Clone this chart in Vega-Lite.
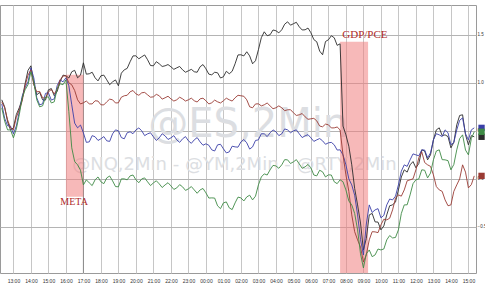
{
  "$schema": "https://vega.github.io/schema/vega-lite/v6.json",
  "width": 476,
  "height": 268,
  "autosize": {"type": "none"},
  "padding": {"left": 0, "top": 5, "right": 9, "bottom": 13},
  "background": "#ffffff",
  "config": {"view": {"stroke": "#9a9a9a", "strokeWidth": 1}},
  "datasets": {
    "prices": [
      {"m": -40, "ES": 0.823, "NQ": 0.781, "YM": 0.802, "RTY": 0.740},
      {"m": -30, "ES": 0.75, "NQ": 0.63, "YM": 0.74, "RTY": 0.60},
      {"m": -20, "ES": 0.594, "NQ": 0.552, "YM": 0.615, "RTY": 0.510},
      {"m": -10, "ES": 0.51, "NQ": 0.55, "YM": 0.53, "RTY": 0.51},
      {"m": 0, "ES": 0.531, "NQ": 0.469, "YM": 0.510, "RTY": 0.427},
      {"m": 10, "ES": 0.67, "NQ": 0.55, "YM": 0.64, "RTY": 0.52},
      {"m": 20, "ES": 0.740, "NQ": 0.698, "YM": 0.719, "RTY": 0.667},
      {"m": 30, "ES": 0.83, "NQ": 0.86, "YM": 0.81, "RTY": 0.84},
      {"m": 40, "ES": 0.990, "NQ": 0.948, "YM": 0.969, "RTY": 0.927},
      {"m": 50, "ES": 1.13, "NQ": 1.01, "YM": 1.08, "RTY": 0.98},
      {"m": 60, "ES": 1.177, "NQ": 1.156, "YM": 1.135, "RTY": 1.115},
      {"m": 70, "ES": 0.99, "NQ": 1.05, "YM": 0.98, "RTY": 1.01},
      {"m": 80, "ES": 0.875, "NQ": 0.844, "YM": 0.906, "RTY": 0.823},
      {"m": 90, "ES": 0.90, "NQ": 0.77, "YM": 0.91, "RTY": 0.75},
      {"m": 100, "ES": 0.823, "NQ": 0.781, "YM": 0.844, "RTY": 0.760},
      {"m": 110, "ES": 0.82, "NQ": 0.89, "YM": 0.84, "RTY": 0.85},
      {"m": 120, "ES": 0.927, "NQ": 0.896, "YM": 0.906, "RTY": 0.854},
      {"m": 130, "ES": 0.94, "NQ": 0.82, "YM": 0.93, "RTY": 0.79},
      {"m": 140, "ES": 0.865, "NQ": 0.833, "YM": 0.885, "RTY": 0.802},
      {"m": 150, "ES": 0.91, "NQ": 0.97, "YM": 0.93, "RTY": 0.94},
      {"m": 160, "ES": 1.010, "NQ": 1.031, "YM": 1.031, "RTY": 0.990},
      {"m": 170, "ES": 1.08, "NQ": 1.01, "YM": 1.07, "RTY": 0.98},
      {"m": 180, "ES": 1.073, "NQ": 1.052, "YM": 1.073, "RTY": 1.031},
      {"m": 190, "ES": 1.05, "NQ": 0.97, "YM": 1.00, "RTY": 0.70},
      {"m": 200, "ES": 1.115, "NQ": 0.771, "YM": 0.979, "RTY": 0.323},
      {"m": 210, "ES": 1.13, "NQ": 0.58, "YM": 0.92, "RTY": 0.18},
      {"m": 220, "ES": 1.052, "NQ": 0.531, "YM": 0.823, "RTY": 0.146},
      {"m": 230, "ES": 1.08, "NQ": 0.56, "YM": 0.78, "RTY": 0.09},
      {"m": 240, "ES": 1.208, "NQ": 0.479, "YM": 0.792, "RTY": -0.063},
      {"m": 250, "ES": 1.09, "NQ": 0.38, "YM": 0.81, "RTY": -0.01},
      {"m": 260, "ES": 1.094, "NQ": 0.385, "YM": 0.781, "RTY": -0.042},
      {"m": 270, "ES": 1.11, "NQ": 0.45, "YM": 0.78, "RTY": -0.07},
      {"m": 280, "ES": 1.052, "NQ": 0.438, "YM": 0.813, "RTY": -0.010},
      {"m": 290, "ES": 1.02, "NQ": 0.40, "YM": 0.81, "RTY": 0.02},
      {"m": 300, "ES": 1.073, "NQ": 0.417, "YM": 0.771, "RTY": -0.031},
      {"m": 310, "ES": 1.08, "NQ": 0.44, "YM": 0.77, "RTY": -0.05},
      {"m": 320, "ES": 1.031, "NQ": 0.396, "YM": 0.802, "RTY": 0.010},
      {"m": 330, "ES": 0.98, "NQ": 0.39, "YM": 0.83, "RTY": 0.03},
      {"m": 340, "ES": 1.010, "NQ": 0.469, "YM": 0.823, "RTY": -0.021},
      {"m": 350, "ES": 1.03, "NQ": 0.51, "YM": 0.79, "RTY": -0.08},
      {"m": 360, "ES": 0.969, "NQ": 0.500, "YM": 0.792, "RTY": -0.083},
      {"m": 370, "ES": 1.10, "NQ": 0.43, "YM": 0.85, "RTY": 0.00},
      {"m": 380, "ES": 1.135, "NQ": 0.417, "YM": 0.865, "RTY": 0.000},
      {"m": 390, "ES": 1.15, "NQ": 0.48, "YM": 0.87, "RTY": -0.01},
      {"m": 400, "ES": 1.219, "NQ": 0.490, "YM": 0.906, "RTY": 0.031},
      {"m": 410, "ES": 1.28, "NQ": 0.47, "YM": 0.92, "RTY": 0.04},
      {"m": 420, "ES": 1.281, "NQ": 0.510, "YM": 0.885, "RTY": -0.010},
      {"m": 430, "ES": 1.25, "NQ": 0.53, "YM": 0.87, "RTY": -0.04},
      {"m": 440, "ES": 1.271, "NQ": 0.500, "YM": 0.896, "RTY": 0.000},
      {"m": 450, "ES": 1.29, "NQ": 0.45, "YM": 0.90, "RTY": 0.01},
      {"m": 460, "ES": 1.240, "NQ": 0.469, "YM": 0.875, "RTY": -0.031},
      {"m": 470, "ES": 1.18, "NQ": 0.48, "YM": 0.85, "RTY": -0.07},
      {"m": 480, "ES": 1.177, "NQ": 0.438, "YM": 0.854, "RTY": -0.042},
      {"m": 490, "ES": 1.22, "NQ": 0.40, "YM": 0.88, "RTY": -0.02},
      {"m": 500, "ES": 1.198, "NQ": 0.427, "YM": 0.865, "RTY": -0.052},
      {"m": 510, "ES": 1.17, "NQ": 0.47, "YM": 0.83, "RTY": -0.09},
      {"m": 520, "ES": 1.177, "NQ": 0.448, "YM": 0.844, "RTY": -0.063},
      {"m": 530, "ES": 1.19, "NQ": 0.41, "YM": 0.86, "RTY": -0.04},
      {"m": 540, "ES": 1.167, "NQ": 0.427, "YM": 0.833, "RTY": -0.073},
      {"m": 550, "ES": 1.14, "NQ": 0.45, "YM": 0.81, "RTY": -0.11},
      {"m": 560, "ES": 1.156, "NQ": 0.406, "YM": 0.823, "RTY": -0.094},
      {"m": 570, "ES": 1.17, "NQ": 0.38, "YM": 0.85, "RTY": -0.06},
      {"m": 580, "ES": 1.135, "NQ": 0.417, "YM": 0.833, "RTY": -0.083},
      {"m": 590, "ES": 1.11, "NQ": 0.44, "YM": 0.81, "RTY": -0.12},
      {"m": 600, "ES": 1.125, "NQ": 0.396, "YM": 0.823, "RTY": -0.104},
      {"m": 610, "ES": 1.14, "NQ": 0.37, "YM": 0.84, "RTY": -0.08},
      {"m": 620, "ES": 1.115, "NQ": 0.406, "YM": 0.813, "RTY": -0.115},
      {"m": 630, "ES": 1.11, "NQ": 0.43, "YM": 0.80, "RTY": -0.15},
      {"m": 640, "ES": 1.167, "NQ": 0.385, "YM": 0.833, "RTY": -0.115},
      {"m": 650, "ES": 1.19, "NQ": 0.35, "YM": 0.84, "RTY": -0.10},
      {"m": 660, "ES": 1.146, "NQ": 0.365, "YM": 0.813, "RTY": -0.146},
      {"m": 670, "ES": 1.09, "NQ": 0.35, "YM": 0.78, "RTY": -0.20},
      {"m": 680, "ES": 1.083, "NQ": 0.302, "YM": 0.792, "RTY": -0.198},
      {"m": 690, "ES": 1.11, "NQ": 0.29, "YM": 0.82, "RTY": -0.20},
      {"m": 700, "ES": 1.104, "NQ": 0.354, "YM": 0.802, "RTY": -0.281},
      {"m": 710, "ES": 1.05, "NQ": 0.36, "YM": 0.79, "RTY": -0.31},
      {"m": 720, "ES": 1.063, "NQ": 0.313, "YM": 0.813, "RTY": -0.250},
      {"m": 730, "ES": 1.12, "NQ": 0.27, "YM": 0.84, "RTY": -0.24},
      {"m": 740, "ES": 1.094, "NQ": 0.281, "YM": 0.823, "RTY": -0.302},
      {"m": 750, "ES": 1.12, "NQ": 0.34, "YM": 0.81, "RTY": -0.32},
      {"m": 760, "ES": 1.198, "NQ": 0.333, "YM": 0.844, "RTY": -0.250},
      {"m": 770, "ES": 1.29, "NQ": 0.33, "YM": 0.87, "RTY": -0.19},
      {"m": 780, "ES": 1.292, "NQ": 0.385, "YM": 0.865, "RTY": -0.198},
      {"m": 790, "ES": 1.28, "NQ": 0.41, "YM": 0.86, "RTY": -0.23},
      {"m": 800, "ES": 1.323, "NQ": 0.375, "YM": 0.823, "RTY": -0.188},
      {"m": 810, "ES": 1.28, "NQ": 0.31, "YM": 0.75, "RTY": -0.17},
      {"m": 820, "ES": 1.198, "NQ": 0.333, "YM": 0.740, "RTY": -0.219},
      {"m": 830, "ES": 1.23, "NQ": 0.40, "YM": 0.78, "RTY": -0.18},
      {"m": 840, "ES": 1.344, "NQ": 0.406, "YM": 0.781, "RTY": -0.063},
      {"m": 850, "ES": 1.47, "NQ": 0.47, "YM": 0.76, "RTY": 0.02},
      {"m": 860, "ES": 1.531, "NQ": 0.469, "YM": 0.771, "RTY": 0.052},
      {"m": 870, "ES": 1.49, "NQ": 0.44, "YM": 0.79, "RTY": 0.04},
      {"m": 880, "ES": 1.500, "NQ": 0.479, "YM": 0.760, "RTY": 0.094},
      {"m": 890, "ES": 1.55, "NQ": 0.51, "YM": 0.73, "RTY": 0.14},
      {"m": 900, "ES": 1.542, "NQ": 0.490, "YM": 0.740, "RTY": 0.135},
      {"m": 910, "ES": 1.52, "NQ": 0.45, "YM": 0.76, "RTY": 0.11},
      {"m": 920, "ES": 1.552, "NQ": 0.469, "YM": 0.740, "RTY": 0.146},
      {"m": 930, "ES": 1.61, "NQ": 0.52, "YM": 0.71, "RTY": 0.20},
      {"m": 940, "ES": 1.635, "NQ": 0.510, "YM": 0.719, "RTY": 0.198},
      {"m": 950, "ES": 1.60, "NQ": 0.48, "YM": 0.72, "RTY": 0.16},
      {"m": 960, "ES": 1.615, "NQ": 0.500, "YM": 0.688, "RTY": 0.177},
      {"m": 970, "ES": 1.63, "NQ": 0.51, "YM": 0.66, "RTY": 0.20},
      {"m": 980, "ES": 1.583, "NQ": 0.469, "YM": 0.667, "RTY": 0.156},
      {"m": 990, "ES": 1.55, "NQ": 0.43, "YM": 0.68, "RTY": 0.11},
      {"m": 1000, "ES": 1.552, "NQ": 0.448, "YM": 0.646, "RTY": 0.125},
      {"m": 1010, "ES": 1.57, "NQ": 0.46, "YM": 0.62, "RTY": 0.15},
      {"m": 1020, "ES": 1.521, "NQ": 0.427, "YM": 0.625, "RTY": 0.115},
      {"m": 1030, "ES": 1.45, "NQ": 0.39, "YM": 0.63, "RTY": 0.04},
      {"m": 1040, "ES": 1.427, "NQ": 0.406, "YM": 0.604, "RTY": 0.031},
      {"m": 1050, "ES": 1.33, "NQ": 0.42, "YM": 0.55, "RTY": 0.09},
      {"m": 1060, "ES": 1.292, "NQ": 0.396, "YM": 0.542, "RTY": 0.073},
      {"m": 1070, "ES": 1.43, "NQ": 0.36, "YM": 0.57, "RTY": 0.02},
      {"m": 1080, "ES": 1.448, "NQ": 0.375, "YM": 0.563, "RTY": 0.042},
      {"m": 1090, "ES": 1.49, "NQ": 0.38, "YM": 0.53, "RTY": 0.04},
      {"m": 1100, "ES": 1.469, "NQ": 0.354, "YM": 0.531, "RTY": -0.031},
      {"m": 1110, "ES": 1.39, "NQ": 0.30, "YM": 0.54, "RTY": -0.05},
      {"m": 1120, "ES": 1.406, "NQ": 0.302, "YM": 0.510, "RTY": -0.010},
      {"m": 1130, "ES": 0.55, "NQ": 0.25, "YM": 0.25, "RTY": -0.03},
      {"m": 1140, "ES": 0.458, "NQ": 0.146, "YM": 0.042, "RTY": -0.115},
      {"m": 1150, "ES": 0.34, "NQ": 0.00, "YM": -0.13, "RTY": -0.23},
      {"m": 1160, "ES": 0.146, "NQ": -0.063, "YM": -0.375, "RTY": -0.271},
      {"m": 1170, "ES": -0.10, "NQ": -0.17, "YM": -0.55, "RTY": -0.36},
      {"m": 1180, "ES": -0.271, "NQ": -0.375, "YM": -0.635, "RTY": -0.531},
      {"m": 1190, "ES": -0.46, "NQ": -0.63, "YM": -0.71, "RTY": -0.78},
      {"m": 1200, "ES": -0.740, "NQ": -0.792, "YM": -0.865, "RTY": -0.927},
      {"m": 1210, "ES": -0.62, "NQ": -0.47, "YM": -0.79, "RTY": -0.78},
      {"m": 1220, "ES": -0.375, "NQ": -0.271, "YM": -0.635, "RTY": -0.740},
      {"m": 1230, "ES": -0.36, "NQ": -0.35, "YM": -0.55, "RTY": -0.81},
      {"m": 1240, "ES": -0.448, "NQ": -0.323, "YM": -0.552, "RTY": -0.792},
      {"m": 1250, "ES": -0.45, "NQ": -0.31, "YM": -0.56, "RTY": -0.73},
      {"m": 1260, "ES": -0.531, "NQ": -0.406, "YM": -0.479, "RTY": -0.740},
      {"m": 1270, "ES": -0.49, "NQ": -0.38, "YM": -0.42, "RTY": -0.73},
      {"m": 1280, "ES": -0.375, "NQ": -0.271, "YM": -0.427, "RTY": -0.635},
      {"m": 1290, "ES": -0.28, "NQ": -0.21, "YM": -0.41, "RTY": -0.59},
      {"m": 1300, "ES": -0.271, "NQ": -0.219, "YM": -0.323, "RTY": -0.615},
      {"m": 1310, "ES": -0.24, "NQ": -0.18, "YM": -0.20, "RTY": -0.61},
      {"m": 1320, "ES": -0.115, "NQ": -0.063, "YM": -0.167, "RTY": -0.531},
      {"m": 1330, "ES": 0.02, "NQ": 0.08, "YM": -0.18, "RTY": -0.36},
      {"m": 1340, "ES": 0.094, "NQ": 0.146, "YM": -0.115, "RTY": -0.271},
      {"m": 1350, "ES": 0.07, "NQ": 0.13, "YM": -0.02, "RTY": -0.27},
      {"m": 1360, "ES": 0.146, "NQ": 0.198, "YM": -0.010, "RTY": -0.167},
      {"m": 1370, "ES": 0.18, "NQ": 0.26, "YM": 0.00, "RTY": -0.05},
      {"m": 1380, "ES": 0.115, "NQ": 0.250, "YM": 0.094, "RTY": -0.010},
      {"m": 1390, "ES": 0.16, "NQ": 0.24, "YM": 0.22, "RTY": 0.00},
      {"m": 1400, "ES": 0.302, "NQ": 0.302, "YM": 0.281, "RTY": 0.094},
      {"m": 1410, "ES": 0.29, "NQ": 0.30, "YM": 0.17, "RTY": 0.09},
      {"m": 1420, "ES": 0.198, "NQ": 0.219, "YM": 0.146, "RTY": 0.010},
      {"m": 1430, "ES": 0.25, "NQ": 0.27, "YM": 0.13, "RTY": 0.06},
      {"m": 1440, "ES": 0.406, "NQ": 0.406, "YM": 0.042, "RTY": 0.198},
      {"m": 1450, "ES": 0.51, "NQ": 0.47, "YM": -0.08, "RTY": 0.29},
      {"m": 1460, "ES": 0.531, "NQ": 0.458, "YM": -0.115, "RTY": 0.302},
      {"m": 1470, "ES": 0.45, "NQ": 0.44, "YM": -0.13, "RTY": 0.20},
      {"m": 1480, "ES": 0.458, "NQ": 0.510, "YM": -0.219, "RTY": 0.198},
      {"m": 1490, "ES": 0.44, "NQ": 0.48, "YM": -0.28, "RTY": 0.19},
      {"m": 1500, "ES": 0.323, "NQ": 0.354, "YM": -0.271, "RTY": 0.094},
      {"m": 1510, "ES": 0.38, "NQ": 0.38, "YM": -0.13, "RTY": 0.15},
      {"m": 1520, "ES": 0.563, "NQ": 0.510, "YM": -0.063, "RTY": 0.302},
      {"m": 1530, "ES": 0.66, "NQ": 0.61, "YM": 0.00, "RTY": 0.42},
      {"m": 1540, "ES": 0.667, "NQ": 0.635, "YM": 0.146, "RTY": 0.458},
      {"m": 1550, "ES": 0.46, "NQ": 0.47, "YM": 0.07, "RTY": 0.30},
      {"m": 1560, "ES": 0.354, "NQ": 0.406, "YM": -0.094, "RTY": 0.250},
      {"m": 1570, "ES": 0.45, "NQ": 0.51, "YM": -0.06, "RTY": 0.42},
      {"m": 1580, "ES": 0.438, "NQ": 0.531, "YM": 0.031, "RTY": 0.490}
    ],
    "events": [
      {"label": "META", "start": 180, "end": 240},
      {"label": "GDP/PCE", "start": 1120, "end": 1216}
    ],
    "one": [{"k": 1}]
  },
  "layer": [
    {
      "data": {"name": "one"},
      "mark": {"type": "text", "text": "@ES,2Min", "font": "DejaVu Sans", "fontSize": 40, "color": "#dcdee2", "align": "center", "baseline": "middle"},
      "encoding": {
        "x": {
          "datum": 805, "type": "quantitative",
          "scale": {"domain": [-46, 1586], "nice": false, "zero": false},
          "axis": {
            "values": [0, 60, 120, 180, 240, 300, 360, 420, 480, 540, 600, 660, 720, 780, 840, 900, 960, 1020, 1080, 1140, 1200, 1260, 1320, 1380, 1440, 1500, 1560],
            "tickCount": 40,
            "grid": true, "gridColor": "#c6c6c6", "gridWidth": 1,
            "ticks": false, "domain": false,
            "labelFontSize": 5, "labelColor": "#333333", "labelPadding": 5,
            "labelOverlap": false, "title": null,
            "labelExpr": "(((13 + datum.value / 60) % 24) < 10 ? '0' : '') + ((13 + datum.value / 60) % 24) + ':00'"
          }
        },
        "y": {
          "datum": 0.5625, "type": "quantitative",
          "scale": {"domain": [-0.98, 1.81], "nice": false, "zero": false},
          "axis": {
            "orient": "right",
            "values": [-0.5, 0, 0.5, 1, 1.5],
            "grid": true, "gridColor": "#b4b4b4", "gridWidth": 1,
            "ticks": false, "domain": false,
            "labelFontSize": 4.5, "labelColor": "#333333", "labelPadding": 1,
            "title": null,
            "labelExpr": "format(datum.value, '.1f')"
          }
        }
      }
    },
    {
      "data": {"name": "one"},
      "mark": {"type": "text", "text": "@NQ,2Min - @YM,2Min - @RTY,2Min", "font": "DejaVu Sans", "fontSize": 18, "color": "#dcdee2", "align": "center", "baseline": "middle"},
      "encoding": {
        "x": {"datum": 758, "type": "quantitative"},
        "y": {"datum": 0.146, "type": "quantitative"}
      }
    },
    {
      "data": {"name": "one"},
      "mark": {"type": "rule", "color": "#8a8a8a", "strokeWidth": 1},
      "encoding": {"x": {"datum": 240, "type": "quantitative"}}
    },
    {
      "data": {"name": "events"},
      "transform": [{"filter": "datum.label == 'META'"}],
      "mark": {"type": "rect", "color": "#f08080", "opacity": 0.55},
      "encoding": {
        "x": {"field": "start", "type": "quantitative"},
        "x2": {"field": "end"},
        "y": {"datum": 1.083, "type": "quantitative"},
        "y2": {"datum": -0.1875}
      }
    },
    {
      "data": {"name": "events"},
      "transform": [{"filter": "datum.label == 'GDP/PCE'"}],
      "mark": {"type": "rect", "color": "#f08080", "opacity": 0.55},
      "encoding": {
        "x": {"field": "start", "type": "quantitative"},
        "x2": {"field": "end"},
        "y": {"datum": 1.427, "type": "quantitative"},
        "y2": {"datum": -0.98}
      }
    },
    {
      "data": {"name": "prices"},
      "transform": [{"fold": ["ES", "NQ", "YM", "RTY"], "as": ["sym", "chg"]}],
      "mark": {"type": "line", "strokeWidth": 0.9},
      "encoding": {
        "x": {"field": "m", "type": "quantitative"},
        "y": {"field": "chg", "type": "quantitative"},
        "color": {
          "field": "sym", "type": "nominal",
          "scale": {"domain": ["ES", "NQ", "YM", "RTY"], "range": ["#2b2b2b", "#3b3fa8", "#9a3b34", "#3e8a45"]},
          "legend": null
        },
        "detail": {"field": "sym"}
      }
    },
    {
      "data": {"name": "prices"},
      "transform": [{"filter": "datum.m == 1580"}, {"fold": ["ES", "NQ", "YM", "RTY"], "as": ["sym", "chg"]}],
      "mark": {"type": "point", "shape": "square", "filled": true, "size": 40, "opacity": 1},
      "encoding": {
        "x": {"datum": 1605, "type": "quantitative"},
        "y": {"field": "chg", "type": "quantitative"},
        "color": {"field": "sym", "type": "nominal", "legend": null}
      }
    },
    {
      "data": {"name": "one"},
      "mark": {"type": "text", "text": "META", "font": "Liberation Serif", "fontSize": 10, "color": "#b02a2a", "align": "center", "baseline": "middle"},
      "encoding": {
        "x": {"datum": 208, "type": "quantitative"},
        "y": {"datum": -0.24, "type": "quantitative"}
      }
    },
    {
      "data": {"name": "one"},
      "mark": {"type": "text", "text": "GDP/PCE", "font": "Liberation Serif", "fontSize": 11, "color": "#b02a2a", "align": "center", "baseline": "middle"},
      "encoding": {
        "x": {"datum": 1205, "type": "quantitative"},
        "y": {"datum": 1.5, "type": "quantitative"}
      }
    }
  ]
}
